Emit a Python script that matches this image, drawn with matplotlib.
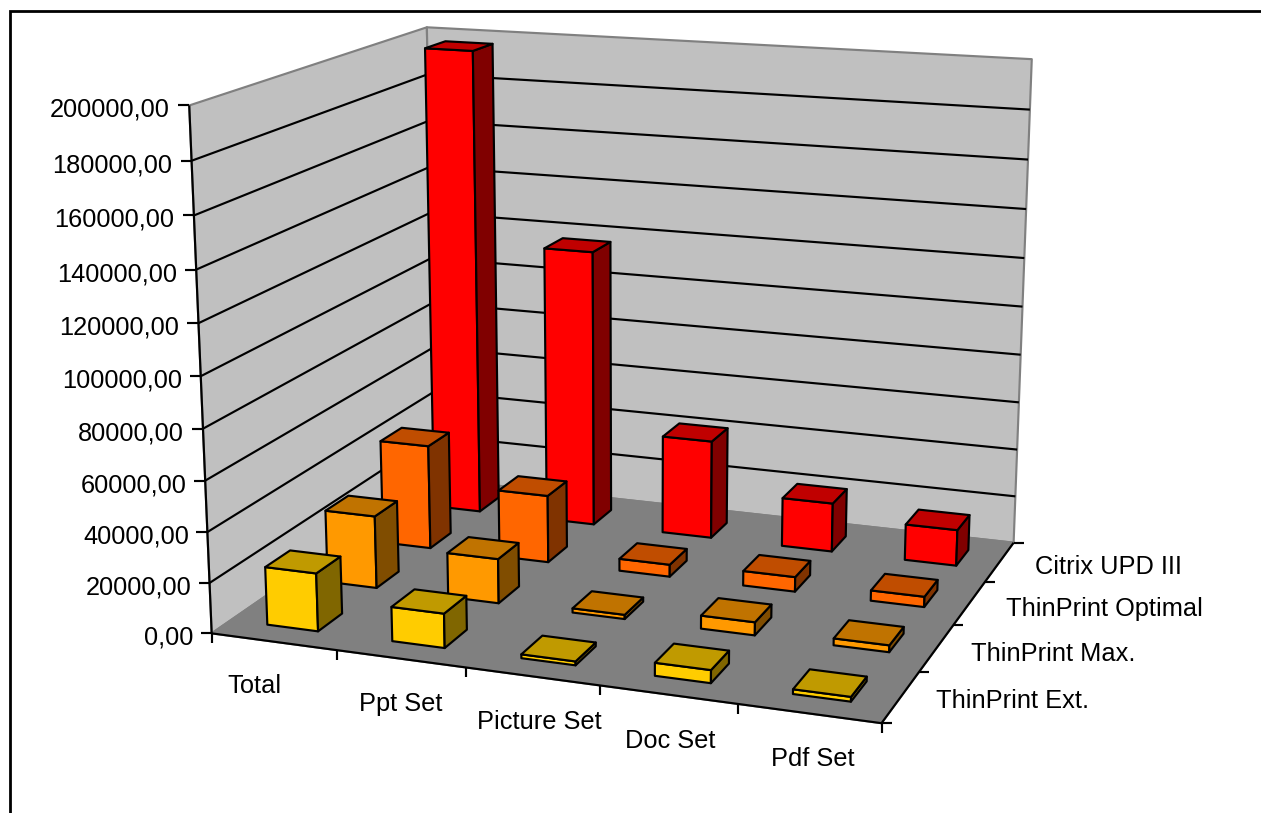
import numpy as np
import matplotlib
matplotlib.use("Agg")
import matplotlib.pyplot as plt
from matplotlib.patches import Polygon

categories = ["Total", "Ppt Set", "Picture Set", "Doc Set", "Pdf Set"]
series_names = ["ThinPrint Ext.", "ThinPrint Max.", "ThinPrint Optimal", "Citrix UPD III"]
thinprint_ext = [23000, 13500, 1500, 5000, 1800]
thinprint_max = [29500, 18000, 1700, 5200, 2700]
thinprint_optimal = [43500, 28000, 5000, 6000, 4200]
citrix_upd = [197000, 117000, 41500, 20500, 15000]
y_ticks = list(range(0, 200001, 20000))

front_colors = ["#FFCC00", "#FF9900", "#FF6600", "#FF0000"]
top_colors = ["#C09A00", "#C07300", "#C04D00", "#C00000"]
side_colors = ["#806600", "#804D00", "#803300", "#800000"]

ZMAX = 200000.0
BAR_W = 0.41
BAR_D = 0.40
plt.rcParams["font.family"] = ["Liberation Sans", "DejaVu Sans"]

# Camera: 3x4 projection fitted to the plot box corners (cat, series, value fraction -> pixel)
box3d = np.array([[0,0,0],[5,0,0],[5,4,0],[0,4,0],[0,0,1],[0,4,1],[5,4,1]], float)
box2d = np.array([[210.5,633],[882,723],[1013,543],[437,479],[190,106],[426,27],[1032,59]], float)
rows = []
for (X, Y, Z), (u, v) in zip(box3d, box2d):
    rows.append([X,Y,Z,1,0,0,0,0,-u*X,-u*Y,-u*Z,-u])
    rows.append([0,0,0,0,X,Y,Z,1,-v*X,-v*Y,-v*Z,-v])
P = np.linalg.svd(np.array(rows))[2][-1].reshape(3, 4)


def proj(x, y, val):
    h = P @ np.array([x, y, val / ZMAX, 1.0])
    return h[0] / h[2], h[1] / h[2]


fig = plt.figure(figsize=(12.61, 8.13), dpi=100)
ax = fig.add_axes([0, 0, 1, 1])
ax.set_xlim(0, 1261)
ax.set_ylim(813, 0)
ax.axis("off")

LW = 1.55
FS = 18.3
n_cat, n_ser = len(categories), len(series_names)


def poly(pts, fc, ec="black", lw=LW, z=2):
    ax.add_patch(Polygon(pts, closed=True, fc=fc, ec=ec, lw=lw, joinstyle="round", zorder=z))


def line(a, b, color="black", lw=LW, z=1.5, **kw):
    ax.plot([a[0], b[0]], [a[1], b[1]], color=color, lw=lw, zorder=z, solid_capstyle="butt", **kw)


# chart-area border (left and top only are visible)
ax.plot([9.5, 9.5, 1261], [813, 11, 11], color="black", lw=2, zorder=1, solid_joinstyle="miter")

# walls and floor
poly([proj(0,0,0), proj(0,4,0), proj(0,4,ZMAX), proj(0,0,ZMAX)], "#C0C0C0", ec="#808080", z=1)
poly([proj(0,4,0), proj(n_cat,4,0), proj(n_cat,4,ZMAX), proj(0,4,ZMAX)], "#C0C0C0", ec="#808080", z=1)
poly([proj(0,0,0), proj(n_cat,0,0), proj(n_cat,4,0), proj(0,4,0)], "#808080", ec="#808080", z=1.2)

# gridlines
for t in y_ticks[1:-1]:
    line(proj(0,0,t), proj(0,4,t))
    line(proj(0,4,t), proj(n_cat,4,t))

# axis lines
line(proj(0,0,0), proj(0,0,ZMAX), z=1.6)
line(proj(0,0,0), proj(n_cat,0,0), z=1.6)
line(proj(n_cat,0,0), proj(n_cat,4,0), z=1.6)

# value ticks and labels
for t in y_ticks:
    x0, y0 = proj(0,0,t)
    line((x0 - 11, y0), (x0, y0), z=1.6)
    ax.text(x0 - 18 - 2 * t / ZMAX, y0 + 4.5, f"{t},00", ha="right", va="center", fontsize=FS, color="black")

# category ticks
for i in range(n_cat + 1):
    x0, y0 = proj(i,0,0)
    line((x0, y0), (x0, y0 + 10), z=1.6)
# series ticks
for j in range(n_ser + 1):
    x0, y0 = proj(n_cat,j,0)
    line((x0, y0), (x0 + 10, y0), z=1.6)

cat_label_pos = [(254,686), (401,704), (539,722), (670,741), (813,759)]
for name, (px, py) in zip(categories, cat_label_pos):
    ax.text(px, py, name, ha="center", va="center", fontsize=FS, color="black")
ser_label_pos = [(1012,701), (1053,654), (1104,609), (1108,567)]
for name, (px, py) in zip(series_names, ser_label_pos):
    ax.text(px, py, name, ha="center", va="center", fontsize=FS, color="black")

# bars, back row first, far (left) bars first
series_values = [thinprint_ext, thinprint_max, thinprint_optimal, citrix_upd]
order = 10
for j in reversed(range(n_ser)):
    for i in range(n_cat):
        v = series_values[j][i]
        x0, x1 = i + 0.5 - BAR_W / 2, i + 0.5 + BAR_W / 2
        y0, y1 = j + 0.5 - BAR_D / 2, j + 0.5 + BAR_D / 2
        order += 1
        poly([proj(x0,y0,0), proj(x1,y0,0), proj(x1,y0,v), proj(x0,y0,v)], front_colors[j], z=order)
        poly([proj(x1,y0,0), proj(x1,y1,0), proj(x1,y1,v), proj(x1,y0,v)], side_colors[j], z=order)
        poly([proj(x0,y0,v), proj(x1,y0,v), proj(x1,y1,v), proj(x0,y1,v)], top_colors[j], z=order)

fig.savefig("out.png", dpi=100)
